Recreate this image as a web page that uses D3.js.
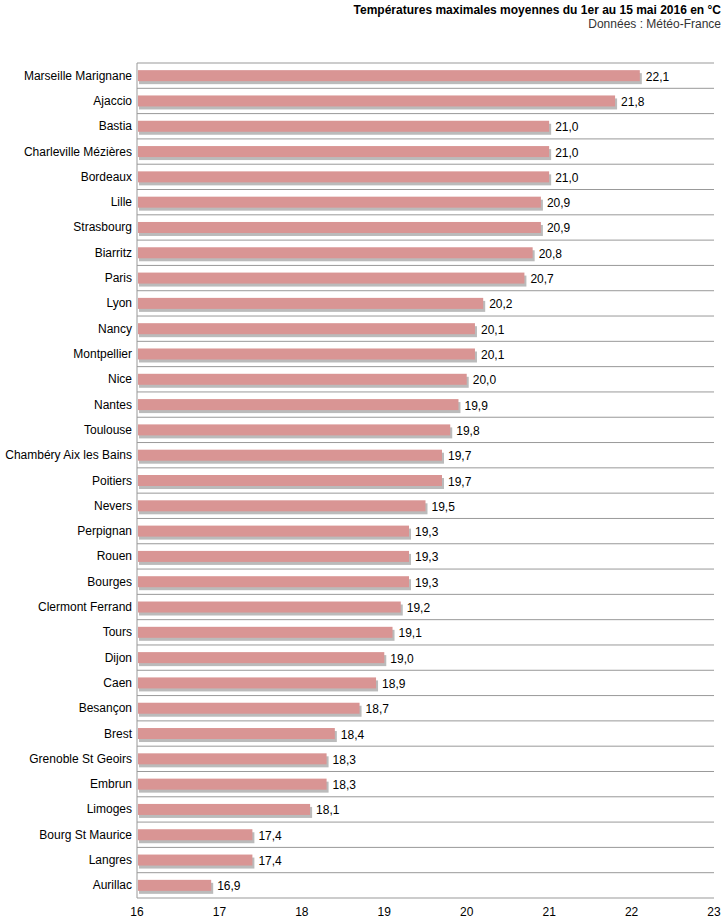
<!DOCTYPE html>
<html><head><meta charset="utf-8">
<script src="https://cdn.jsdelivr.net/npm/d3@7"></script>
<style>body{margin:0;background:#fff}text{font-family:"Liberation Sans",Arial,sans-serif}</style>
</head><body><svg width="727" height="922"></svg>
<script>
const cities = ['Marseille Marignane','Ajaccio','Bastia','Charleville Mézières','Bordeaux','Lille','Strasbourg','Biarritz','Paris','Lyon','Nancy','Montpellier','Nice','Nantes','Toulouse','Chambéry Aix les Bains','Poitiers','Nevers','Perpignan','Rouen','Bourges','Clermont Ferrand','Tours','Dijon','Caen','Besançon','Brest','Grenoble St Geoirs','Embrun','Limoges','Bourg St Maurice','Langres','Aurillac'];
const temps = [22.1,21.8,21.0,21.0,21.0,20.9,20.9,20.8,20.7,20.2,20.1,20.1,20.0,19.9,19.8,19.7,19.7,19.5,19.3,19.3,19.3,19.2,19.1,19.0,18.9,18.7,18.4,18.3,18.3,18.1,17.4,17.4,16.9];
const ticks = [16,17,18,19,20,21,22,23];

const svg = d3.select('svg');
const plotL = 137, plotR = 714, plotT = 63, plotB = 898;
const x = d3.scaleLinear().domain([16, 23]).range([plotL, plotR]);
const y = d3.scaleBand().domain(cities).range([plotT, plotB]);

// title
svg.append('text').attr('x', 721).attr('y', 14).attr('text-anchor', 'end')
    .attr('font-size', 12).attr('font-weight', 'bold')
    .text('Températures maximales moyennes du 1er au 15 mai 2016 en °C');
svg.append('text').attr('x', 721).attr('y', 28).attr('text-anchor', 'end')
    .attr('font-size', 12).attr('fill', '#333').text('Données : Météo-France');

// row separators
svg.append('g').selectAll('line').data(cities).join('line')
    .attr('x1', plotL).attr('x2', plotR)
    .attr('y1', d => y(d)).attr('y2', d => y(d))
    .attr('stroke', '#999');
svg.append('line').attr('x1', plotL).attr('x2', plotR).attr('y1', plotB).attr('y2', plotB).attr('stroke', '#999');
svg.append('line').attr('x1', plotL).attr('x2', plotL).attr('y1', plotT).attr('y2', plotB).attr('stroke', '#999');

const bh = 11;
const yc = d => y(d) + y.bandwidth() / 2 - bh / 2;
// shadows
svg.append('g').selectAll('rect').data(cities).join('rect')
    .attr('x', plotL + 2).attr('y', d => yc(d) + 3)
    .attr('width', (d, i) => x(temps[i]) - plotL)
    .attr('height', bh).attr('fill', '#bbb');
svg.append('g').selectAll('rect').data(cities).join('rect')
    .attr('x', plotL + 1).attr('y', yc)
    .attr('width', (d, i) => x(temps[i]) - plotL - 1)
    .attr('height', bh).attr('fill', '#d99594');

// values
svg.append('g').selectAll('text').data(cities).join('text')
    .attr('x', (d, i) => x(temps[i]) + 6).attr('y', d => y(d) + y.bandwidth() / 2 + 5)
    .attr('font-size', 12).text((d, i) => temps[i].toFixed(1).replace('.', ','));
// category labels
svg.append('g').selectAll('text').data(cities).join('text')
    .attr('x', plotL - 5).attr('y', d => y(d) + y.bandwidth() / 2 + 4)
    .attr('text-anchor', 'end').attr('font-size', 12).text(d => d);
// x ticks
svg.append('g').selectAll('text').data(ticks).join('text')
    .attr('x', d => x(d)).attr('y', 916).attr('text-anchor', 'middle')
    .attr('font-size', 12).text(d => d);
</script></body></html>
